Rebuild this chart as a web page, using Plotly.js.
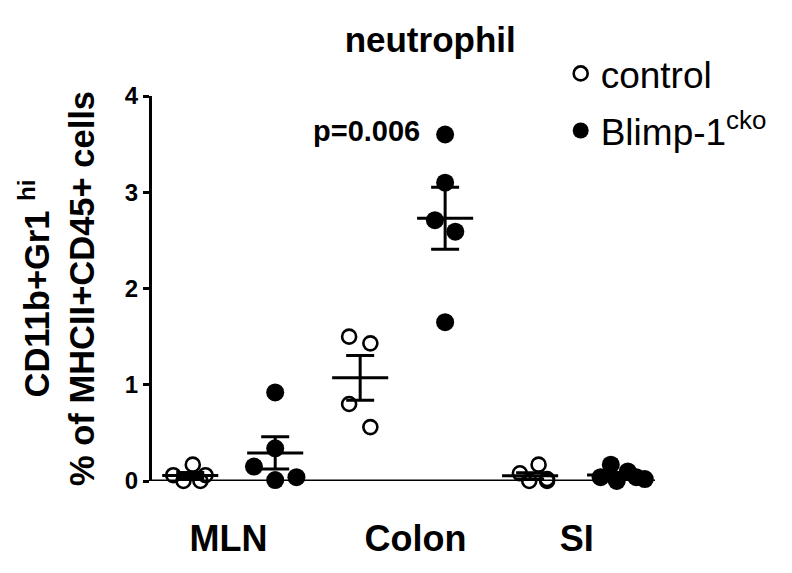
<!DOCTYPE html>
<html>
<head>
<meta charset="utf-8">
<script src="https://cdn.plot.ly/plotly-3.0.1.min.js"></script>
<style>html,body{margin:0;padding:0;background:#fff;}#chart{width:792px;height:573px;}</style>
</head>
<body>
<div id="chart"></div>
<script>
// ---- data ----
const tissues = ["MLN", "Colon", "SI"];
const groups = ["control", "Blimp-1<sup>cko</sup>"];

const mlnControl = [0.06, 0.17, 0.0, 0.06, 0.0];
const mlnBlimp = [0.92, 0.15, 0.34, 0.01, 0.04];
const colonControl = [1.50, 1.43, 0.80, 0.56];
const colonBlimp = [3.60, 3.10, 2.71, 2.59, 1.65];
const siControl = [0.08, 0.17, 0.0, 0.02, 0.0];
const siBlimp = [0.17, 0.04, 0.0, 0.10, 0.04, 0.02];

// horizontal scatter (jitter) of each dot within its column, as seen in the picture
const jitterMlnControl = [-0.2, 0.03, -0.08, 0.18, 0.12];
const jitterMlnBlimp = [0.0, -0.25, 0.0, 0.0, 0.25];
const jitterColonControl = [-0.13, 0.12, -0.13, 0.12];
const jitterColonBlimp = [0.0, 0.0, -0.12, 0.12, 0.0];
const jitterSiControl = [-0.12, 0.1, -0.01, 0.2, 0.2];
const jitterSiBlimp = [-0.05, -0.17, 0.02, 0.15, 0.25, 0.35];

const pLabel = "p=0.006";
const titleText = "neutrophil";
const yTitle = "CD11b+Gr1 <sup>hi</sup><br>% of MHCII+CD45+ cells";
const yTicks = [0, 1, 2, 3, 4];

// ---- build ----
const FONT = "Liberation Sans, Arial, Helvetica, sans-serif";
const controlSets = [mlnControl, colonControl, siControl];
const blimpSets = [mlnBlimp, colonBlimp, siBlimp];
const controlJit = [jitterMlnControl, jitterColonControl, jitterSiControl];
const blimpJit = [jitterMlnBlimp, jitterColonBlimp, jitterSiBlimp];

function mean(a){return a.reduce((s,v)=>s+v,0)/a.length;}
function sem(a){const m=mean(a);const v=a.reduce((s,x)=>s+(x-m)*(x-m),0)/(a.length-1);return Math.sqrt(v)/Math.sqrt(a.length);}

function pts(sets, jits, offset){
  const xs=[], ys=[];
  sets.forEach((s,i)=>{s.forEach((v,j)=>{xs.push(2*i+offset+jits[i][j]); ys.push(v);});});
  return {xs, ys};
}
const cP = pts(controlSets, controlJit, 0);
const bP = pts(blimpSets, blimpJit, 1);

const traces = [];
// mean lines and SEM bars
const allSets = [];
controlSets.forEach((s,i)=>allSets.push({s, x:2*i}));
blimpSets.forEach((s,i)=>allSets.push({s, x:2*i+1}));
const mlx=[], mly=[];
allSets.forEach(o=>{const m=mean(o.s); mlx.push(o.x-0.33,o.x+0.33,null); mly.push(m,m,null);});
traces.push({x:mlx,y:mly,mode:"lines",line:{color:"#000",width:3},showlegend:false,hoverinfo:"skip",cliponaxis:false});
traces.push({x:allSets.map(o=>o.x), y:allSets.map(o=>mean(o.s)), mode:"markers", marker:{size:1,opacity:0},
  error_y:{type:"data",array:allSets.map(o=>sem(o.s)),color:"#000",thickness:3,width:14},
  showlegend:false,hoverinfo:"skip",cliponaxis:false});

traces.push({x:cP.xs,y:cP.ys,mode:"markers",name:groups[0],legendgroup:"a",cliponaxis:false,
  marker:{symbol:"circle-open",size:14,color:"#000",line:{width:2.6,color:"#000"}}});
traces.push({x:bP.xs,y:bP.ys,mode:"markers",name:groups[1],legendgroup:"b",cliponaxis:false,
  marker:{symbol:"circle",size:18,color:"#000"}});

const layout = {
  width:792, height:573,
  margin:{l:152,r:137,t:96,b:92},
  paper_bgcolor:"#fff", plot_bgcolor:"#fff",
  font:{family:FONT,color:"#000"},
  title:{text:"<b>"+titleText+"</b>",font:{size:35,family:FONT,color:"#000"},x:438/792,xanchor:"center",xref:"paper",y:1-40/573,yanchor:"middle",yref:"container"},
  xaxis:{range:[-0.45,5.47],showgrid:false,zeroline:false,showline:false,
    tickvals:[0.45,2.65,4.55],ticktext:tissues.map(t=>"<b>"+t+"</b>"),ticks:"",
    tickfont:{size:36,family:FONT,color:"#000"},ticklabelstandoff:33},
  yaxis:{range:[0,4],tickvals:yTicks,ticktext:yTicks.map(t=>"<b>"+t+"</b>"),showgrid:false,zeroline:false,showline:true,linecolor:"#000",linewidth:3,
    ticks:"outside",ticklen:6,tickwidth:3,tickcolor:"#000",
    tickfont:{size:24,family:FONT,color:"#000"},
    title:{text:"<b>"+yTitle+"</b>",font:{size:34.5,family:FONT,color:"#000"},standoff:20}},
  shapes:[{type:"line",xref:"paper",yref:"y",x0:0,x1:1,y0:0,y1:0,line:{color:"#000",width:3}}],
  legend:{x:520/640,xref:"paper",y:1.138,yanchor:"top",xanchor:"left",font:{size:37,family:FONT,color:"#000"},
    bgcolor:"rgba(0,0,0,0)",itemwidth:30,tracegroupgap:6},
  annotations:[{x:2.07,y:3.64,xref:"x",yref:"y",text:"<b>"+pLabel+"</b>",showarrow:false,font:{size:29,family:FONT,color:"#000"}}]
};
Plotly.newPlot("chart", traces, layout, {displayModeBar:false, staticPlot:true});
</script>
</body>
</html>
